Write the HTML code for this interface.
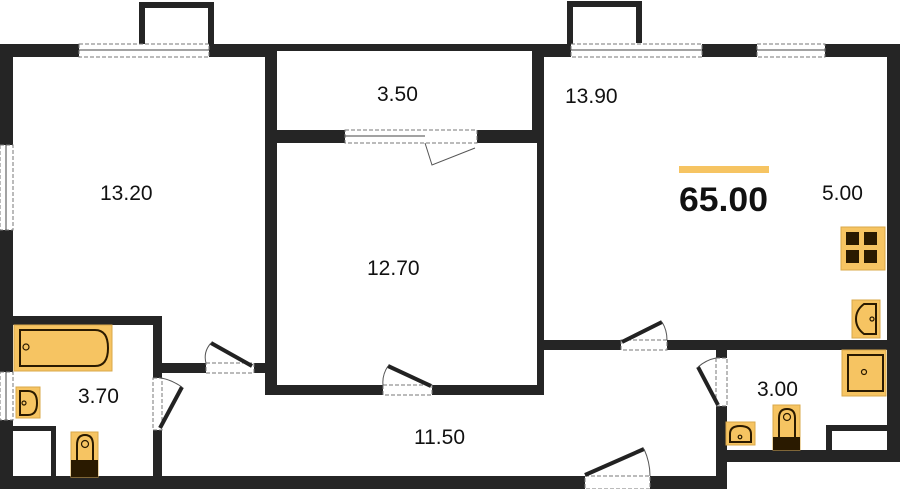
<!DOCTYPE html>
<html><head><meta charset="utf-8"><style>
html,body{margin:0;padding:0;background:#fff;}
svg{display:block}
text{font-family:"Liberation Sans","DejaVu Sans",sans-serif;fill:#111;}
</style></head><body>
<svg width="900" height="489" viewBox="0 0 900 489" xmlns="http://www.w3.org/2000/svg">
<g fill="#252525">
<path d="M139 44V2h75v42h-6V8h-63v36z"/>
<path d="M567 44V1h75v42h-6V7h-63v37z"/>
<rect x="0" y="44" width="79" height="13"/>
<rect x="209" y="44" width="68" height="13"/>
<rect x="277" y="44" width="267" height="7"/>
<rect x="532" y="44" width="39" height="13"/>
<rect x="702" y="44" width="55" height="13"/>
<rect x="825" y="44" width="75" height="13"/>
<rect x="0" y="44" width="13" height="101"/>
<rect x="0" y="230" width="13" height="142"/>
<rect x="0" y="420" width="13" height="69"/>
<rect x="887" y="44" width="13" height="418"/>
<rect x="0" y="476" width="585" height="13"/>
<rect x="650" y="476" width="77" height="13"/>
<rect x="716" y="450" width="184" height="12"/>
<rect x="265" y="50" width="12" height="344"/>
<rect x="265" y="130" width="80" height="13"/>
<rect x="477" y="130" width="67" height="13"/>
<rect x="532" y="50" width="12" height="93"/>
<rect x="537" y="130" width="7" height="265"/>
<rect x="265" y="385" width="118" height="10"/>
<rect x="432" y="385" width="112" height="10"/>
<rect x="543" y="340" width="78" height="10"/>
<rect x="667" y="340" width="220" height="10"/>
<rect x="716" y="350" width="11" height="8"/>
<rect x="716" y="406" width="11" height="83"/>
<rect x="826" y="425" width="6" height="25"/>
<rect x="826" y="425" width="61" height="6"/>
<rect x="13" y="316" width="149" height="9"/>
<rect x="153" y="316" width="9" height="62"/>
<rect x="153" y="430" width="9" height="47"/>
<rect x="162" y="363" width="44" height="10"/>
<rect x="254" y="363" width="12" height="10"/>
<rect x="13" y="426" width="43" height="5"/>
<rect x="51" y="426" width="5" height="51"/>
</g>
<g fill="none" stroke="#777" stroke-width="1" stroke-dasharray="4,2">
<rect x="79" y="44" width="130" height="13"/>
<rect x="571" y="44" width="131" height="13"/>
<rect x="757" y="44" width="68" height="13"/>
<rect x="0" y="145" width="13" height="85"/>
<rect x="0" y="372" width="13" height="48"/>
<rect x="345" y="130" width="132" height="13"/>
<rect x="383" y="385" width="49" height="10"/>
<rect x="206" y="363" width="48" height="10"/>
<rect x="153" y="378" width="9" height="52"/>
<rect x="621" y="340" width="46" height="10"/>
<rect x="716" y="358" width="11" height="48"/>
<rect x="585" y="476" width="65" height="13"/>
</g>
<g stroke="#444" stroke-width="1">
<line x1="79" y1="50" x2="209" y2="50"/>
<line x1="571" y1="50" x2="702" y2="50"/>
<line x1="757" y1="50" x2="825" y2="50"/>
<line x1="6" y1="145" x2="6" y2="230"/>
<line x1="6" y1="372" x2="6" y2="420"/>
<line x1="345" y1="136" x2="425" y2="136"/>
</g>
<g stroke="#222" stroke-width="4" fill="none">
<line x1="388" y1="366" x2="431" y2="386"/>
<line x1="252" y1="366" x2="211" y2="343"/>
<line x1="160" y1="428" x2="182" y2="387"/>
<line x1="622" y1="342" x2="662" y2="322"/>
<line x1="718" y1="405" x2="698" y2="367"/>
<line x1="585" y1="475" x2="644" y2="449"/>
</g>
<g stroke="#555" stroke-width="1" fill="none">
<path d="M425 143 L432 165 L475 148"/>
<path d="M211 343 Q203 352 206 363"/>
<path d="M182 387 Q170 379 160 378"/>
<path d="M662 322 Q667 330 667 340"/>
<path d="M698 367 Q706 360 716 358"/>
<path d="M644 449 Q650 462 650 476"/>
<path d="M388 366 Q382 375 383 385"/>
</g>
<g fill="#f6c462" stroke="#d9a84a" stroke-width="1">
<rect x="14" y="325" width="98" height="46"/>
<rect x="16" y="387" width="24" height="31"/>
<rect x="71" y="432" width="27" height="45"/>
<rect x="841" y="227" width="44" height="43"/>
<rect x="852" y="300" width="28" height="38"/>
<rect x="842" y="350" width="44" height="46"/>
<rect x="726" y="422" width="29" height="23"/>
<rect x="773" y="405" width="27" height="45"/>
</g>
<g fill="none" stroke="#2a1a00" stroke-width="2">
<path d="M20 330 H95 Q108 330 108 348 Q108 366 95 366 H20 Z"/>
<path d="M20 391 H28 Q37 391 37 403 Q37 415 28 415 H20 Z"/>
<path d="M77 460 V445 Q77 435 85 435 Q93 435 93 445 V460"/>
<path d="M876 304 H864 Q856 310 856 319 Q856 328 864 334 H876 Z"/>
<rect x="848" y="355" width="35" height="36"/>
<path d="M730 442 V434 Q730 426 740 426 Q751 426 751 434 V442 Z"/>
<path d="M779 437 V418 Q779 409 787 409 Q795 409 795 418 V437"/>
</g>
<g fill="#2a1a00">
<rect x="71" y="460" width="27" height="17"/>
<rect x="773" y="437" width="27" height="13"/>
<rect x="846" y="232" width="13" height="13"/>
<rect x="864" y="232" width="13" height="13"/>
<rect x="846" y="250" width="13" height="13"/>
<rect x="864" y="250" width="13" height="13"/>
</g>
<g fill="none" stroke="#2a1a00" stroke-width="1.2">
<circle cx="26" cy="347" r="3"/>
<circle cx="24" cy="403" r="2"/>
<circle cx="85" cy="444" r="3.5"/>
<circle cx="872" cy="319" r="2"/>
<circle cx="864" cy="372" r="2.5"/>
<circle cx="740" cy="437" r="1.8"/>
<circle cx="787" cy="417" r="3.5"/>
</g>
<rect x="679" y="166" width="90" height="7" fill="#f6c462"/>
<text x="679" y="211" font-size="34" font-weight="bold" textLength="89" lengthAdjust="spacingAndGlyphs">65.00</text>
<g font-size="21">
<text x="100" y="200">13.20</text>
<text x="377" y="101">3.50</text>
<text x="565" y="103">13.90</text>
<text x="367" y="275">12.70</text>
<text x="822" y="200">5.00</text>
<text x="78" y="403">3.70</text>
<text x="414" y="444">11.50</text>
<text x="757" y="396">3.00</text>
</g>
</svg>
</body></html>
